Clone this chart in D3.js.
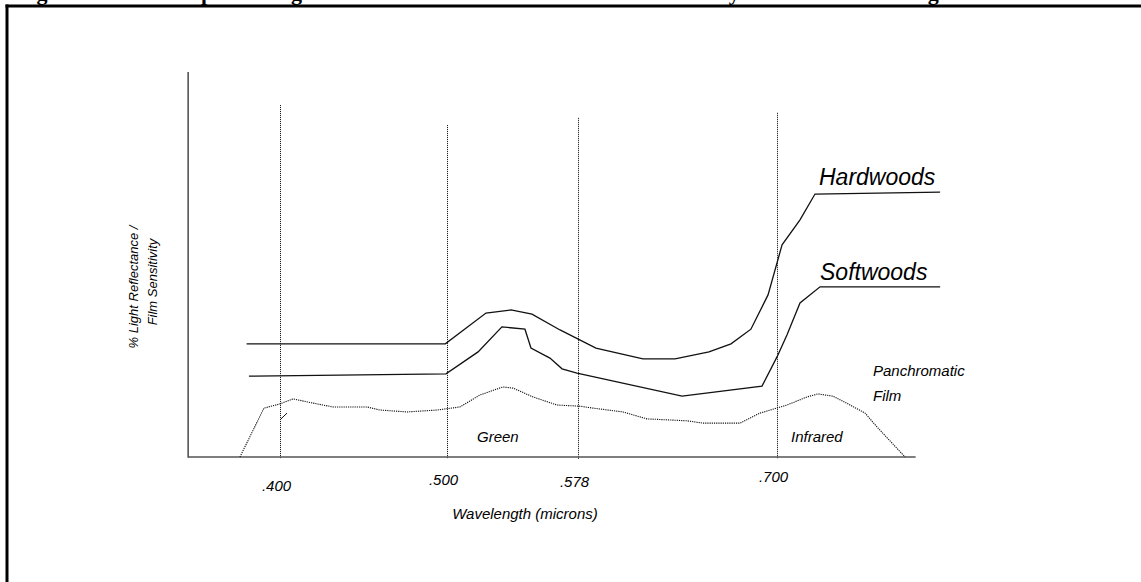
<!DOCTYPE html>
<html>
<head>
<meta charset="utf-8">
<script src="https://cdn.jsdelivr.net/npm/d3@7"></script>
<style>
  html, body { margin: 0; padding: 0; background: #fff; }
  svg { display: block; }
</style>
</head>
<body>
<div id="chart"></div>
<script>
// ---------- data ----------
const titleText = "Figure 4. Relative Spectral Signatures of Hardwood and Softwood Sensitivity Across the Wavelength";
const tickValues = [0.400, 0.500, 0.578, 0.700];
const tickLabels = [".400", ".500", ".578", ".700"];
// top (in % units) of each dotted guide line
const guideTops = [91.4, 86.2, 88.1, 89.4];

const hardX = [0.380, 0.499, 0.5232, 0.5381, 0.5506, 0.5673, 0.5890, 0.6178, 0.6375, 0.6583, 0.6718, 0.6840, 0.6945, 0.7031, 0.7141, 0.7233, 0.800];
const hardY = [29.4, 29.4, 37.4, 38.2, 37.1, 33.0, 28.3, 25.5, 25.5, 27.3, 29.4, 33.2, 42.1, 55.1, 61.6, 68.3, 68.8];

const softX = [0.3814, 0.4994, 0.5185, 0.5327, 0.5464, 0.5500, 0.5613, 0.5685, 0.5774, 0.6418, 0.6908, 0.700, 0.7061, 0.7141, 0.7264, 0.800];
const softY = [21.0, 21.6, 27.3, 33.8, 33.2, 28.3, 25.7, 22.9, 21.8, 15.8, 18.4, 26.0, 31.7, 40.0, 44.2, 44.2];

const panX = [0.3760, 0.3904, 0.400, 0.4078, 0.4198, 0.4317, 0.4521, 0.4599, 0.4760, 0.4940, 0.5077, 0.5196, 0.5333, 0.5393, 0.5512, 0.5655, 0.5792, 0.5872, 0.6056, 0.6203, 0.6448, 0.6546, 0.6773, 0.6896, 0.7061, 0.7184, 0.7251, 0.7343, 0.7448, 0.7540, 0.7613, 0.7785];
const panY = [0, 12.7, 13.8, 15.1, 14.0, 13.0, 13.0, 12.2, 11.7, 12.2, 13.0, 16.1, 18.2, 17.9, 15.6, 13.5, 13.2, 12.7, 11.7, 9.9, 9.4, 8.8, 8.8, 11.4, 13.5, 15.6, 16.4, 15.8, 13.5, 11.4, 7.8, 0];
// short stray stroke near .400
const strayX = [0.4006, 0.4042];
const strayY = [9.9, 11.4];

const xAxisExtent = [0.345, 0.785];
const yDomain = [0, 100];

// ---------- layout ----------
const W = 1141, H = 582;
const svg = d3.select("#chart").append("svg").attr("width", W).attr("height", H);
svg.append("rect").attr("width", W).attr("height", H).attr("fill", "#fff");

const x = d3.scaleLinear().domain(tickValues).range([280, 447, 578, 777]);
const y = d3.scaleLinear().domain(yDomain).range([457, 72]);

const sans = "'Liberation Sans', Arial, sans-serif";

// title (cut off by the top edge, as in the source scan)
svg.append("text")
  .attr("x", 17).attr("y", 0)
  .attr("font-family", "'Liberation Serif', 'Times New Roman', serif")
  .attr("font-weight", "bold").attr("font-size", 22)
  .attr("fill", "#000")
  .text(titleText);

// frame
svg.append("line").attr("x1", 5.5).attr("x2", W).attr("y1", 6).attr("y2", 6)
  .attr("stroke", "#000").attr("stroke-width", 3);
svg.append("line").attr("x1", 7).attr("x2", 7).attr("y1", 4.5).attr("y2", H)
  .attr("stroke", "#000").attr("stroke-width", 3);

// dotted guides
svg.append("g").selectAll("line").data(tickValues).join("line")
  .attr("x1", d => Math.round(x(d)) + 0.5).attr("x2", d => Math.round(x(d)) + 0.5)
  .attr("y1", (d, i) => y(guideTops[i])).attr("y2", 459)
  .attr("stroke", "#000").attr("stroke-width", 1)
  .attr("stroke-dasharray", "1,1");

// axes
const xAxis = d3.axisBottom(x).tickValues(tickValues)
  .tickFormat((d, i) => tickLabels[i]).tickSize(0).tickSizeOuter(0);
const gx = svg.append("g").attr("transform", `translate(0,${y(0)})`).call(xAxis);
gx.select(".domain").attr("d", `M${x(xAxisExtent[0])},0H${x(xAxisExtent[1])}`)
  .attr("stroke", "#555").attr("stroke-width", 1.6);
const labelDy = [34, 28, 30, 25];
gx.selectAll(".tick text")
  .attr("y", (d, i) => labelDy[i]).attr("dy", 0)
  .attr("dx", -4)
  .attr("font-family", sans).attr("font-style", "italic").attr("font-size", 15)
  .attr("fill", "#000");

svg.append("line")
  .attr("x1", x(xAxisExtent[0])).attr("x2", x(xAxisExtent[0]))
  .attr("y1", y(100)).attr("y2", y(0) + 0.8)
  .attr("stroke", "#555").attr("stroke-width", 1.6);

// series
const line = d3.line().x(d => x(d[0])).y(d => y(d[1]));
function drawSeries(xs, ys, dash, width) {
  svg.append("path")
    .attr("d", line(xs.map((v, i) => [v, ys[i]])))
    .attr("fill", "none").attr("stroke", "#111")
    .attr("stroke-width", width)
    .attr("stroke-dasharray", dash);
}
drawSeries(hardX, hardY, null, 1.3);
drawSeries(softX, softY, null, 1.3);
drawSeries(panX, panY, "1.2,1", 1.1);
drawSeries(strayX, strayY, null, 1);

// labels
function label(txt, px, py, size, anchor) {
  svg.append("text").attr("x", px).attr("y", py)
    .attr("font-family", sans).attr("font-style", "italic")
    .attr("font-size", size).attr("fill", "#000")
    .attr("text-anchor", anchor || "start").text(txt);
}
label("Hardwoods", 819, 185, 23);
label("Softwoods", 820, 280, 23);
label("Panchromatic", 873, 376, 15);
label("Film", 873, 401, 15);
label("Green", 477, 442, 15);
label("Infrared", 791, 442, 15);
label("Wavelength (microns)", 525, 519, 15, "middle");

const yl = svg.append("g").attr("transform", "translate(0,287) rotate(-90)");
yl.append("text").attr("x", 0).attr("y", 138)
  .attr("font-family", sans).attr("font-style", "italic").attr("font-size", 13)
  .attr("text-anchor", "middle").text("% Light Reflectance /");
yl.append("text").attr("x", 5).attr("y", 157)
  .attr("font-family", sans).attr("font-style", "italic").attr("font-size", 13)
  .attr("text-anchor", "middle").text("Film Sensitivity");
</script>
</body>
</html>
